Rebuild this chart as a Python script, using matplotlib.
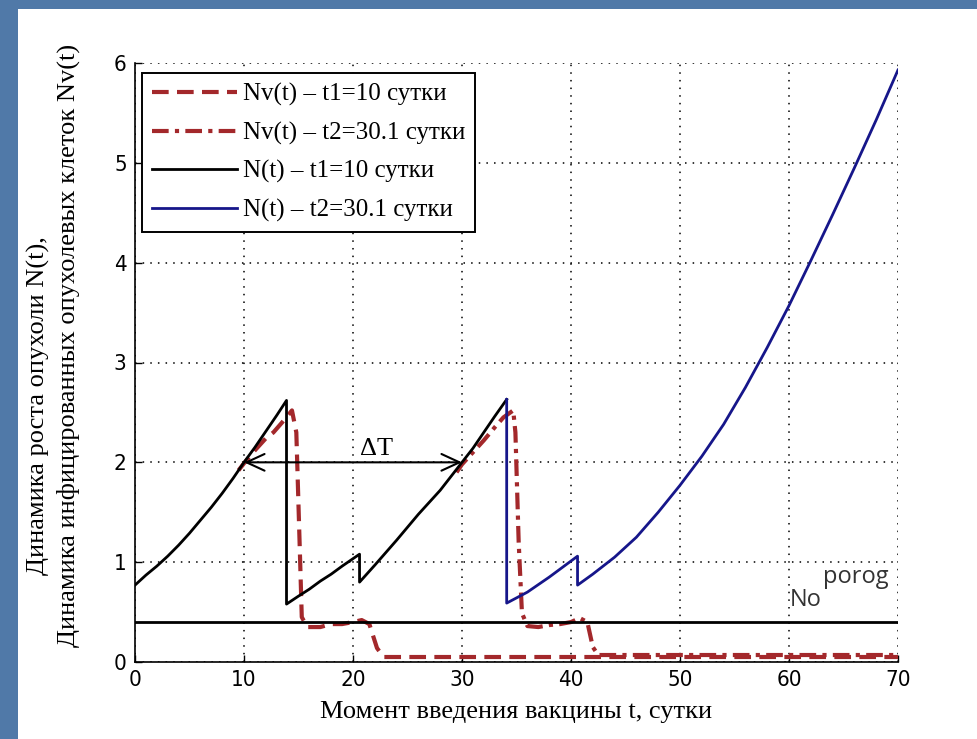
import matplotlib.pyplot as plt
from matplotlib.patches import Rectangle

# N(t), scenario t1 = 10 days (black)
n1_t = [0, 1, 2, 3, 4, 5, 6, 7, 8, 9, 10, 11, 12, 13, 13.9,
        13.9, 15, 16, 17, 18, 19, 20.6,
        20.6, 22, 24, 26, 28, 30, 31, 32, 33, 34.1]
n1_v = [0.77, 0.87, 0.96, 1.06, 1.17, 1.29, 1.42, 1.55, 1.69, 1.84, 2.0, 2.15, 2.31, 2.47, 2.62,
        0.58, 0.66, 0.73, 0.81, 0.88, 0.96, 1.08,
        0.80, 0.97, 1.22, 1.48, 1.72, 2.0, 2.14, 2.30, 2.46, 2.63]

# N(t), scenario t2 = 30.1 days (blue)
n2_t = [34.1, 34.1, 36, 38, 40.6, 40.6, 42, 44, 46, 48, 50, 52, 54, 56, 58, 60, 62, 64, 66, 68, 70]
n2_v = [2.63, 0.59, 0.70, 0.85, 1.06, 0.77, 0.88, 1.05, 1.25, 1.5, 1.77, 2.06, 2.38, 2.75, 3.15,
        3.57, 4.02, 4.48, 4.95, 5.43, 5.93]

# Nv(t), t1 (dashed)
nv1_t = [9.5, 10, 11, 12, 12.7, 13.5, 14.4, 14.8, 15.1, 15.3, 15.8, 17, 18, 19, 20, 20.8,
         21.5, 22.2, 22.8, 25, 30, 35, 40, 45, 50, 55, 60, 65, 70]
nv1_v = [1.92, 1.99, 2.12, 2.24, 2.30, 2.40, 2.52, 2.3, 1.2, 0.45, 0.35, 0.35, 0.38, 0.38, 0.40, 0.42,
         0.38, 0.14, 0.05, 0.05, 0.05, 0.05, 0.05, 0.05, 0.05, 0.05, 0.05, 0.05, 0.05]

# Nv(t), t2 (dash-dot)
nv2_t = [29.5, 30, 31, 32, 33, 33.8, 34.7, 34.9, 35.2, 35.5, 36, 37, 38, 39, 40, 40.8,
         41.5, 42, 42.5, 45, 50, 55, 60, 65, 70]
nv2_v = [1.9, 1.98, 2.1, 2.22, 2.35, 2.45, 2.52, 2.3, 1.2, 0.49, 0.36, 0.35, 0.37, 0.38, 0.40, 0.44,
         0.40, 0.15, 0.07, 0.07, 0.07, 0.07, 0.07, 0.07, 0.07]

threshold = 0.4
x_ticks = [0, 10, 20, 30, 40, 50, 60, 70]
y_ticks = [0, 1, 2, 3, 4, 5, 6]

labels = ["Nv(t) – t1=10 сутки", "Nv(t) – t2=30.1 сутки",
          "N(t) – t1=10 сутки", "N(t) – t2=30.1 сутки"]

serif = ["Liberation Serif", "DejaVu Serif"]
sans = ["Open Sans", "DejaVu Sans"]

fig = plt.figure(figsize=(9.77, 7.39), dpi=100)
fig.patch.set_facecolor("#5079a8")
fig.patches.append(Rectangle((18 / 977, 0), 1, 1 - 9 / 739, transform=fig.transFigure,
                             facecolor="white", edgecolor="none", zorder=-10))

ax = fig.add_axes([135 / 977, 1 - 662 / 739, 763 / 977, 599 / 739])
ax.set_facecolor("white")

red = "#a3282b"
ax.plot(nv1_t, nv1_v, color=red, lw=3, ls=(0, (4, 2)), label=labels[0])
ax.plot(nv2_t, nv2_v, color=red, lw=3, ls=(0, (4, 1.5, 1, 1.5)), label=labels[1])
ax.plot(n1_t, n1_v, color="black", lw=2, label=labels[2])
ax.plot(n2_t, n2_v, color="#16168a", lw=2, label=labels[3])
ax.axhline(threshold, color="black", lw=2)

ax.annotate("", xy=(10, 2), xytext=(30, 2),
            arrowprops=dict(arrowstyle="<->,head_length=0.65,head_width=0.3",
                            mutation_scale=20, color="black", lw=1.5,
                            shrinkA=0, shrinkB=0))
ax.text(20.6, 2.07, "ΔT", family=serif, fontsize=19)
ax.text(60.1, 0.56, "No", family=sans, fontsize=17, color="#333333")
ax.text(63.1, 0.79, "porog", family=sans, fontsize=17, color="#333333")

ax.set_xlim(0, 70)
ax.set_ylim(0, 6)
ax.set_xticks(x_ticks)
ax.set_yticks(y_ticks)
ax.grid(True, color="black", ls=(0, (1, 4)), lw=1.1)
for s in ["top", "right"]:
    ax.spines[s].set_visible(False)
for s in ["left", "bottom"]:
    ax.spines[s].set_linewidth(1.2)
ax.tick_params(direction="in", length=5, width=1, pad=6)
for lab in ax.get_xticklabels() + ax.get_yticklabels():
    lab.set_family("DejaVu Sans")
    lab.set_stretch("condensed")
    lab.set_fontsize(16)

ax.set_xlabel("Момент введения вакцины t, сутки", family=serif, fontsize=19, labelpad=8)
fig.text(38 / 977, 1 - 406 / 739, "Динамика роста опухоли N(t),", family=serif, fontsize=19,
         rotation=90, ha="center", va="center")
fig.text(68 / 977, 1 - 345 / 739, "Динамика инфицированных опухолевых клеток Nv(t)",
         family=serif, fontsize=19, rotation=90, ha="center", va="center")

leg = ax.legend(loc="upper left", bbox_to_anchor=(0.009, 0.983), prop={"family": serif, "size": 18},
                handlelength=3.4, handletextpad=0.25, labelspacing=0.62, borderpad=0.4,
                borderaxespad=0, fancybox=False, framealpha=1, edgecolor="black")
leg.get_frame().set_linewidth(1.4)

fig.savefig("out.png", dpi=100, facecolor=fig.get_facecolor())
